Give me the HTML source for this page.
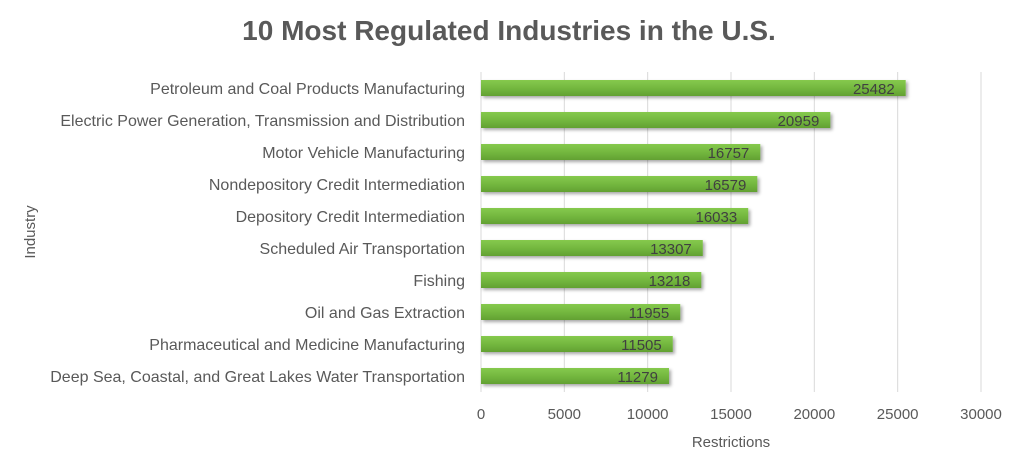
<!DOCTYPE html>
<html><head><meta charset="utf-8"><style>
body{margin:0;background:#fff;width:1017px;height:469px;overflow:hidden;font-family:"Liberation Sans",sans-serif}
</style></head><body>
<svg id="chart" width="1017" height="469" xmlns="http://www.w3.org/2000/svg" font-family="Liberation Sans, sans-serif">
<defs>
<linearGradient id="g" x1="0" y1="0" x2="0" y2="1">
<stop offset="0" stop-color="#86c94e"/><stop offset="0.5" stop-color="#74b83f"/><stop offset="1" stop-color="#62a132"/>
</linearGradient>
<filter id="sh" x="-5%" y="-30%" width="110%" height="180%"><feDropShadow dx="2" dy="2" stdDeviation="1.5" flood-color="#000" flood-opacity="0.35"/></filter>
</defs>
<text x="509" y="40" text-anchor="middle" font-size="28" font-weight="bold" fill="#595959">10 Most Regulated Industries in the U.S.</text>
<g id="grid"></g><g id="bars"></g><g id="labels"></g>
<text x="731" y="447" text-anchor="middle" font-size="15" fill="#595959">Restrictions</text>
<text x="0" y="0" transform="translate(35,232) rotate(-90)" text-anchor="middle" font-size="15" fill="#595959">Industry</text>
</svg>
<script>
const categories=["Petroleum and Coal Products Manufacturing","Electric Power Generation, Transmission and Distribution","Motor Vehicle Manufacturing","Nondepository Credit Intermediation","Depository Credit Intermediation","Scheduled Air Transportation","Fishing","Oil and Gas Extraction","Pharmaceutical and Medicine Manufacturing","Deep Sea, Coastal, and Great Lakes Water Transportation"];
const values=[25482,20959,16757,16579,16033,13307,13218,11955,11505,11279];
const ticks=[0,5000,10000,15000,20000,25000,30000];
const NS="http://www.w3.org/2000/svg";
const x0=481,x1=981,xmax=30000;
const xs=v=>x0+(v/xmax)*(x1-x0);
const ys=i=>88+i*32;
function mk(t,a,p){const e=document.createElementNS(NS,t);for(const k in a)e.setAttribute(k,a[k]);p.appendChild(e);return e;}
const grid=document.getElementById('grid'),bars=document.getElementById('bars'),labels=document.getElementById('labels');
ticks.forEach(t=>{
 const l=mk('line',{x1:xs(t),x2:xs(t),y1:72,y2:392,stroke:'#d9d9d9','stroke-width':1},grid);
 
 
 const tx=mk('text',{x:xs(t),y:419,'text-anchor':'middle','font-size':15,fill:'#595959'},grid);
 tx.textContent=t;
 
 
});
categories.forEach((c,i)=>{
 const y=ys(i);
 const r=mk('rect',{x:x0,y:y-8,width:xs(values[i])-x0,height:16,fill:'url(#g)',filter:'url(#sh)'},bars);
 
 
 const v=mk('text',{x:xs(values[i])-11,y:y+6,'text-anchor':'end','font-size':15,fill:'#404040'},labels);
 v.textContent=values[i];
 
 
 const cl=mk('text',{x:465,y:y+6,'text-anchor':'end','font-size':16,fill:'#595959'},labels);
 cl.textContent=c;
 
 
});
</script>
</body></html>
